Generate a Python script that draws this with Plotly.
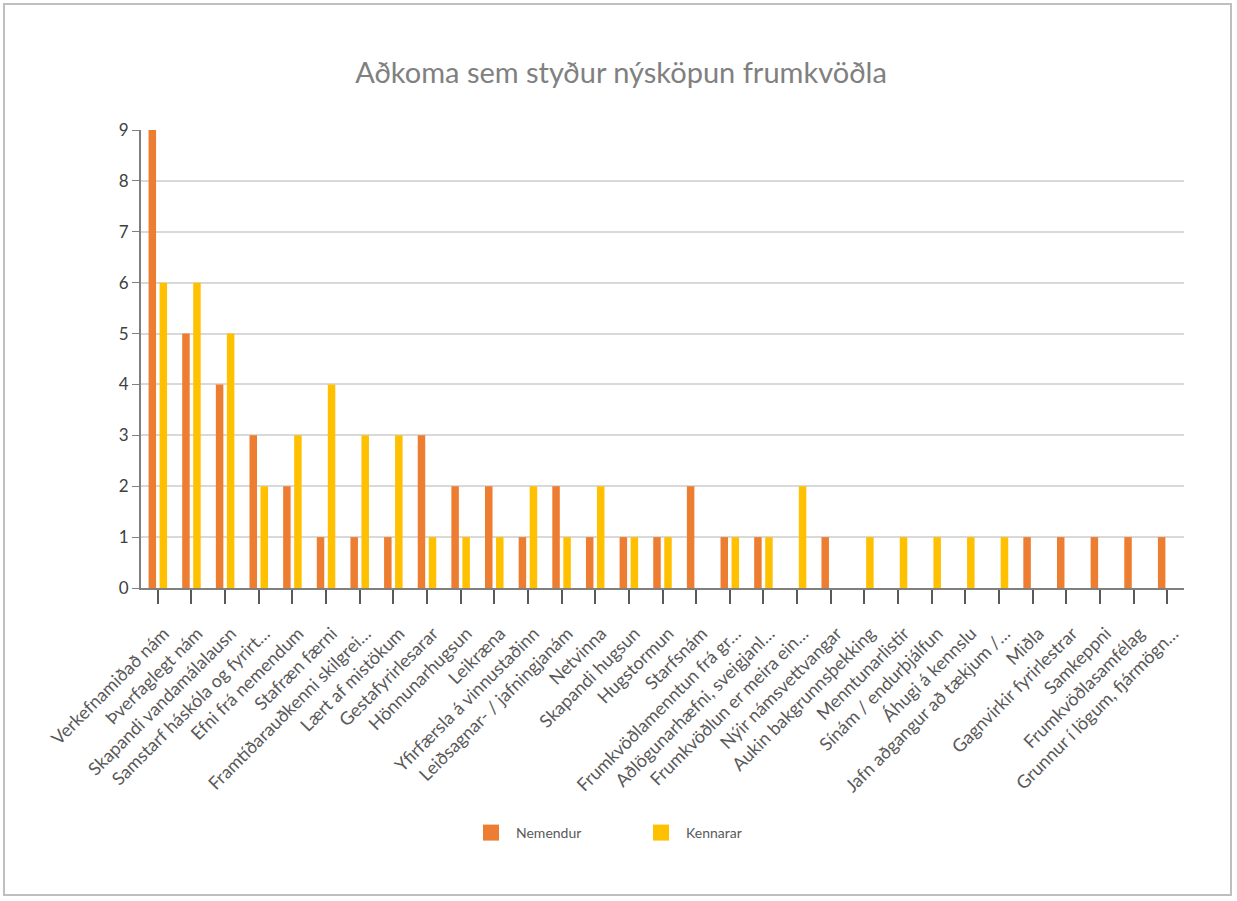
import plotly.graph_objects as go

categories = [
    "Verkefnamiðað nám",
    "Þverfaglegt nám",
    "Skapandi vandamálalausn",
    "Samstarf háskóla og fyrirt…",
    "Efni frá nemendum",
    "Stafræn færni",
    "Framtíðarauðkenni skilgrei…",
    "Lært af mistökum",
    "Gestafyrirlesarar",
    "Hönnunarhugsun",
    "Leikræna",
    "Yfirfærsla á vinnustaðinn",
    "Leiðsagnar- / jafningjanám",
    "Netvinna",
    "Skapandi hugsun",
    "Hugstormun",
    "Starfsnám",
    "Frumkvöðlamenntun frá gr…",
    "Aðlögunarhæfni, sveigjanl…",
    "Frumkvöðlun er meira ein…",
    "Nýir námsvettvangar",
    "Aukin bakgrunnsþekking",
    "Menntunarlistir",
    "Sínám / endurþjálfun",
    "Áhugi á kennslu",
    "Jafn aðgangur að tækjum /…",
    "Miðla",
    "Gagnvirkir fyrirlestrar",
    "Samkeppni",
    "Frumkvöðlasamfélag",
    "Grunnur í lögum, fjármögn…",
]

nemendur = [9, 5, 4, 3, 2, 1, 1, 1, 3, 2, 2, 1, 2, 1, 1, 1, 2, 1, 1, 0, 1, 0, 0, 0, 0, 0, 1, 1, 1, 1, 1]
kennarar = [6, 6, 5, 2, 3, 4, 3, 3, 1, 1, 1, 2, 1, 2, 1, 1, 0, 1, 1, 2, 0, 1, 1, 1, 1, 1, 0, 0, 0, 0, 0]

ORANGE = "#ED7D31"
YELLOW = "#FFC000"
FONT = "Lato, 'Open Sans', sans-serif"

L, R, T, B = 141, 53, 130, 313
PLOT_W = 1237 - L - R
PLOT_H = 901 - T - B

def px_x(px):
    return (px - L) / PLOT_W

def px_y(py):
    return (901 - B - py) / PLOT_H

fig = go.Figure()
fig.add_trace(go.Bar(name="Nemendur", x=categories, y=nemendur, marker_color=ORANGE,
                     marker_line_width=0, showlegend=False))
fig.add_trace(go.Bar(name="Kennarar", x=categories, y=kennarar, marker_color=YELLOW,
                     marker_line_width=0, showlegend=False))

# legend entries with square swatches
for name, color in (("Nemendur", ORANGE), ("Kennarar", YELLOW)):
    fig.add_trace(go.Scatter(x=[None], y=[None], mode="markers", name=name,
                             marker=dict(symbol="square", size=22, color=color)))

# page frame around the whole chart
fig.add_shape(type="rect", xref="paper", yref="paper",
              x0=px_x(4), x1=px_x(1231), y0=px_y(895), y1=px_y(4),
              line=dict(color="#bfbfbf", width=2), fillcolor="rgba(0,0,0,0)", layer="below")

fig.update_layout(
    width=1237, height=901,
    margin=dict(l=L, r=R, t=T, b=B),
    paper_bgcolor="white", plot_bgcolor="white",
    barmode="group", bargap=0.345, bargroupgap=0.32,
    font=dict(family=FONT, color="#595959"),
    title=dict(text="Aðkoma sem styður nýsköpun frumkvöðla",
               x=621 / 1237, xanchor="center", y=1 - 73 / 901, yanchor="middle",
               font=dict(size=29, color="#808080", family=FONT)),
    legend=dict(orientation="h", x=px_x(466), xanchor="left", y=px_y(833), yanchor="middle",
                font=dict(size=14, color="#595959"), itemwidth=40,
                entrywidth=115, entrywidthmode="pixels", traceorder="normal"),
    showlegend=True,
)

fig.update_xaxes(
    tickangle=-45, tickfont=dict(size=18, color="#595959"),
    ticklabelstandoff=12, ticklabelshift=6,
    showline=True, linecolor="#7f7f7f", linewidth=2,
    ticks="outside", ticklen=14, tickcolor="#595959", tickwidth=2,
    showgrid=False,
)
fig.update_yaxes(
    range=[0, 9], dtick=1, tickfont=dict(size=17, color="#404040"),
    showline=True, linecolor="#7f7f7f", linewidth=2,
    ticks="outside", ticklen=7, tickcolor="#7f7f7f",
    showgrid=True, gridcolor="#d9d9d9", gridwidth=2, zeroline=False,
)

fig.write_html("out.html")
